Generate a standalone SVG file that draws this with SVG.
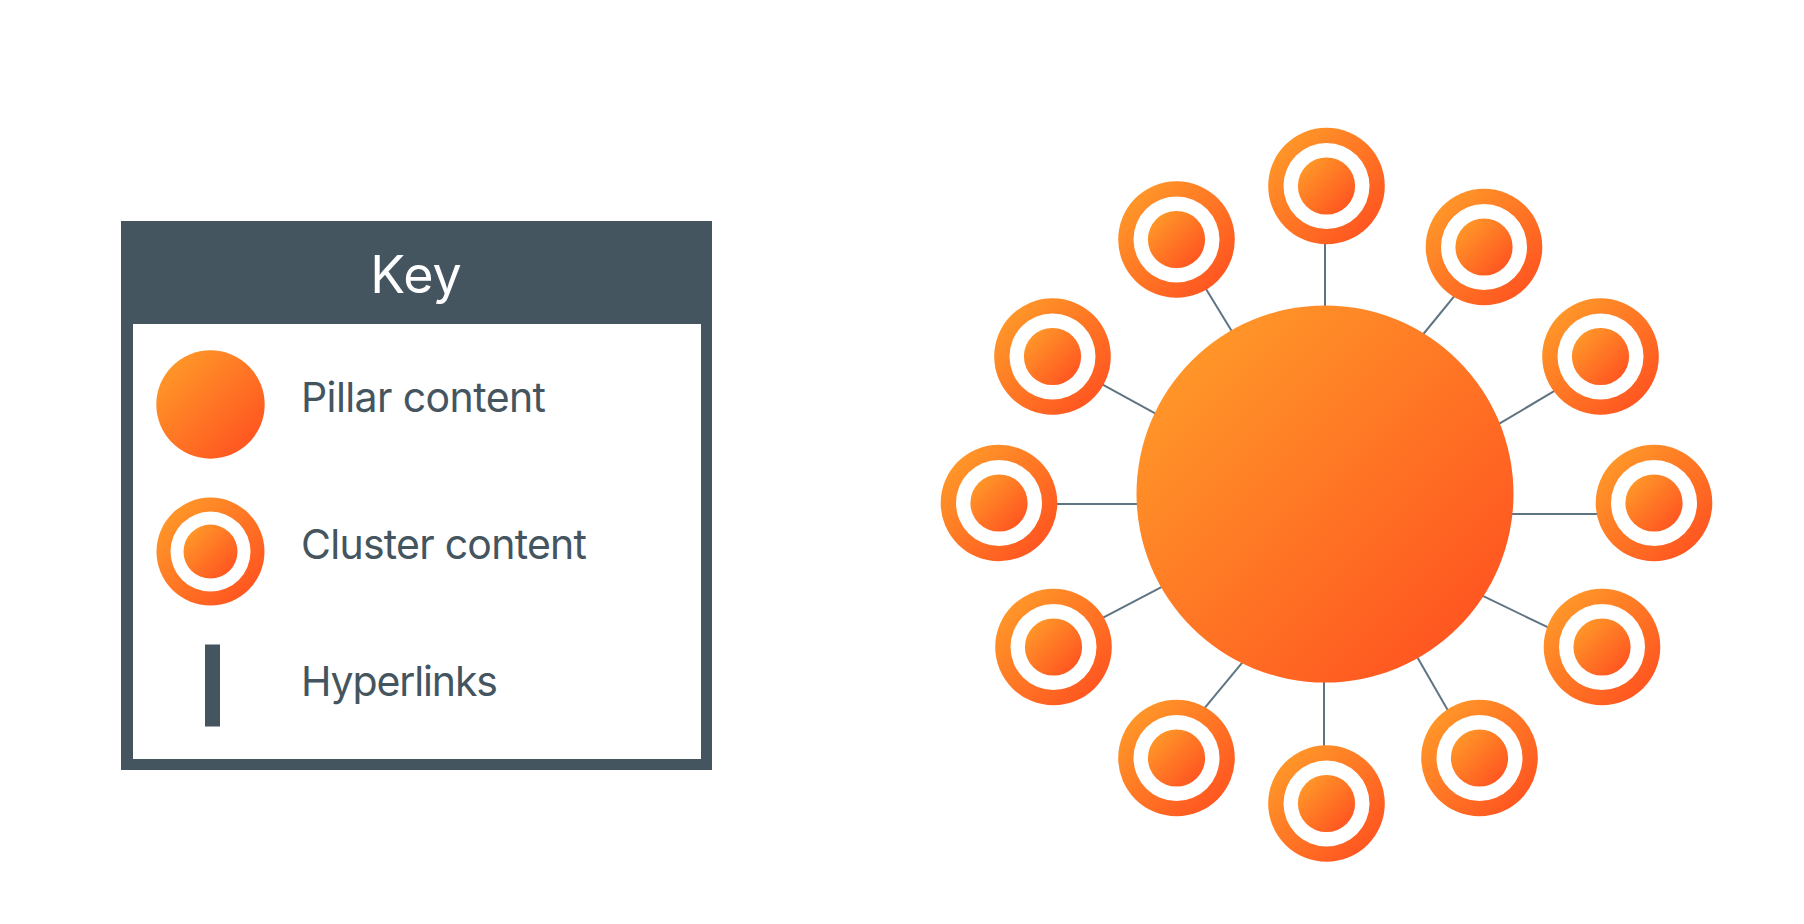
<svg xmlns="http://www.w3.org/2000/svg" xmlns:xlink="http://www.w3.org/1999/xlink" width="1804" height="924" viewBox="0 0 1804 924">
  <style>
    .lbl { font-family: "Inter", "Lato", "Liberation Sans", sans-serif; font-size: 41px; fill: #44555F; }
    .title { font-family: "Inter", "Lato", "Liberation Sans", sans-serif; font-size: 52px; fill: #FFFFFF; }
    .link { stroke: #5F7482; stroke-width: 2; fill: none; }
    .orange { fill: url(#og); }
    .hole { fill: #FFFFFF; }
  </style>
  <defs>
    <linearGradient id="og" x1="0" y1="0" x2="1" y2="1">
      <stop offset="0" stop-color="#FFA22A"/>
      <stop offset="1" stop-color="#FF4A1F"/>
    </linearGradient>
    <g id="cluster">
      <circle class="orange" r="58.3"/>
      <circle class="hole" r="43"/>
      <circle class="orange" r="28.6"/>
    </g>
  </defs>
  <rect width="1804" height="924" fill="#FFFFFF"/>

  <g id="key">
    <rect x="121" y="221" width="591" height="549" fill="#44555F"/>
    <rect x="133" y="324" width="568" height="435" fill="#FFFFFF"/>
    <text class="title" x="416" y="293" text-anchor="middle">Key</text>
    <g id="key-pillar">
      <circle class="orange" cx="210.5" cy="404.5" r="54.2"/>
      <text class="lbl" x="301" y="411.5" textLength="245" lengthAdjust="spacing">Pillar content</text>
    </g>
    <g id="key-cluster">
      <circle class="orange" cx="210.5" cy="551.6" r="54"/>
      <circle class="hole" cx="210.5" cy="551.6" r="40"/>
      <circle class="orange" cx="210.5" cy="551.6" r="27"/>
      <text class="lbl" x="301" y="559" textLength="286" lengthAdjust="spacing">Cluster content</text>
    </g>
    <g id="key-link">
      <rect x="205" y="644.5" width="15" height="82" fill="#44555F"/>
      <text class="lbl" x="301" y="696" textLength="197" lengthAdjust="spacing">Hyperlinks</text>
    </g>
  </g>

  <g id="connectors">
    <line class="link" x1="1325" y1="240" x2="1325" y2="312"/>
    <line class="link" x1="1458.4" y1="291.1" x2="1418.9" y2="339.5"/>
    <line class="link" x1="1560" y1="387.6" x2="1493" y2="427.4"/>
    <line class="link" x1="1600" y1="514" x2="1505" y2="514"/>
    <line class="link" x1="1553.9" y1="630.2" x2="1477.1" y2="593.2"/>
    <line class="link" x1="1450.7" y1="715.2" x2="1414.3" y2="652.1"/>
    <line class="link" x1="1324" y1="750" x2="1324" y2="676"/>
    <line class="link" x1="1200.6" y1="712.9" x2="1246.8" y2="657.1"/>
    <line class="link" x1="1097.9" y1="620.4" x2="1168.1" y2="583.6"/>
    <line class="link" x1="1052" y1="504" x2="1145" y2="504"/>
    <line class="link" x1="1096.3" y1="381.2" x2="1162" y2="417.1"/>
    <line class="link" x1="1202.5" y1="283.2" x2="1235.2" y2="336.8"/>
  </g>

  <g id="pillar">
    <circle class="orange" cx="1325" cy="494" r="188.5"/>
  </g>

  <g id="cluster-1"><use xlink:href="#cluster" href="#cluster" x="1326.5" y="186"/></g>
  <g id="cluster-2"><use xlink:href="#cluster" href="#cluster" x="1484" y="247"/></g>
  <g id="cluster-3"><use xlink:href="#cluster" href="#cluster" x="1600.5" y="356.5"/></g>
  <g id="cluster-4"><use xlink:href="#cluster" href="#cluster" x="1654" y="503"/></g>
  <g id="cluster-5"><use xlink:href="#cluster" href="#cluster" x="1602" y="647"/></g>
  <g id="cluster-6"><use xlink:href="#cluster" href="#cluster" x="1479.5" y="758"/></g>
  <g id="cluster-7"><use xlink:href="#cluster" href="#cluster" x="1326.5" y="803.5"/></g>
  <g id="cluster-8"><use xlink:href="#cluster" href="#cluster" x="1176.5" y="758"/></g>
  <g id="cluster-9"><use xlink:href="#cluster" href="#cluster" x="1053.5" y="647"/></g>
  <g id="cluster-10"><use xlink:href="#cluster" href="#cluster" x="999" y="503"/></g>
  <g id="cluster-11"><use xlink:href="#cluster" href="#cluster" x="1052.5" y="356.5"/></g>
  <g id="cluster-12"><use xlink:href="#cluster" href="#cluster" x="1176.5" y="239.5"/></g>
</svg>
